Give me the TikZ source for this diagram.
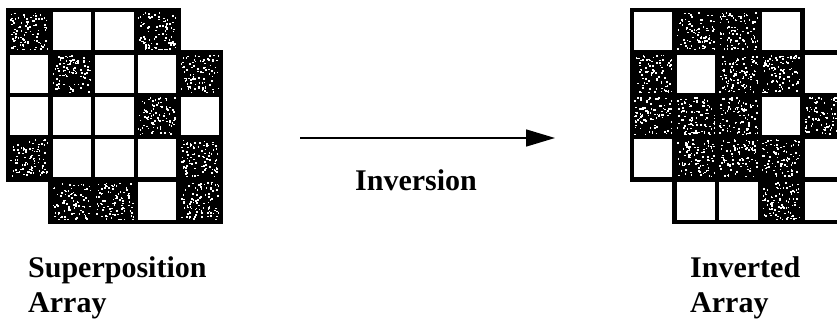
\documentclass[tikz,border=0pt]{standalone}
\usepackage{fontspec}
\setmainfont{Liberation Serif}
\usetikzlibrary{arrows.meta}

\tikzset{
  cellbox/.style={draw=black, line width=4.5pt},
  lbl/.style={font=\fontsize{30}{35}\selectfont\bfseries, inner sep=0pt, anchor=base west},
}
\newcommand\cellw{42.6}
\newcommand\cellh{42.4}

\begin{document}
\begin{tikzpicture}[x=1pt, y=-1pt]
    \useasboundingbox (0,0) rectangle (837,324);
    \clip (0,0) rectangle (837,324);
    \pgfmathsetseed{7}

    % Cells: row/col/dark (superposition); inverted array flips dark
    \foreach \ox/\inv in {8/0, 632/1}{
      \foreach \r/\c/\v in {0/0/1, 0/1/0, 0/2/0, 0/3/1,
                            1/0/0, 1/1/1, 1/2/0, 1/3/0, 1/4/1,
                            2/0/0, 2/1/0, 2/2/0, 2/3/1, 2/4/0,
                            3/0/1, 3/1/0, 3/2/0, 3/3/0, 3/4/1,
                            4/1/1, 4/2/1, 4/3/0, 4/4/1}{
        \pgfmathtruncatemacro\dark{abs(\v-\inv)}
        \pgfmathsetmacro\cx{\ox+\c*\cellw}
        \pgfmathsetmacro\cy{10+\r*\cellh}
        \ifnum\dark=1
          \fill[black] (\cx,\cy) rectangle ++(\cellw,\cellh);
          % white speckle
          \foreach \k in {1,...,95}{
            \pgfmathsetmacro\sx{\cx+2+rnd*(\cellw-4)}
            \pgfmathsetmacro\sy{\cy+2+rnd*(\cellh-4)}
            \fill[white] (\sx,\sy) rectangle ++(1.6,1.6);
          }
        \else
          \fill[white] (\cx,\cy) rectangle ++(\cellw,\cellh);
        \fi
        \draw[cellbox] (\cx,\cy) rectangle ++(\cellw,\cellh);
      }
    }

    % Arrow
    \coordinate (arrS) at (300,138);
    \coordinate (arrE) at (555,138);
    \draw[line width=1.5pt, -{Triangle[length=29pt, width=17pt]}] (arrS) -- (arrE);

    % Labels
    \node[lbl, anchor=base] (invLbl) at (416,190) {Inversion};
    \node[lbl] (supLbl1) at (28,277) {Superposition};
    \node[lbl] (supLbl2) at (28,312) {Array};
    \node[lbl] (invArr1) at (690,277) {Inverted};
    \node[lbl] (invArr2) at (690,312) {Array};
\end{tikzpicture}
\end{document}
